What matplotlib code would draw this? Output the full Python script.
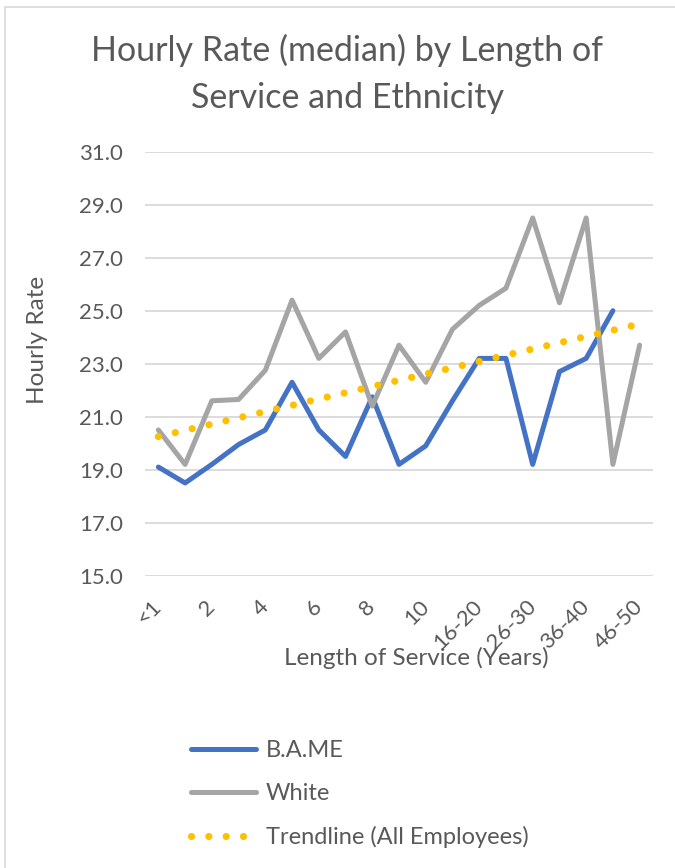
import numpy as np
import matplotlib
matplotlib.use("Agg")
import matplotlib.pyplot as plt
from matplotlib.patches import Rectangle
from matplotlib.ticker import FormatStrFormatter

plt.rcParams['font.family'] = ['Lato', 'DejaVu Sans']

categories = ["<1", "1", "2", "3", "4", "5", "6", "7", "8", "9", "10",
              "11-15", "16-20", "21-25", "26-30", "31-35", "36-40", "41-45", "46-50"]
bame = [19.1, 18.5, 19.2, 19.95, 20.5, 22.3, 20.5, 19.5, 21.75, 19.2, 19.9,
        21.6, 23.2, 23.2, 19.2, 22.7, 23.2, 25.0, np.nan]
white = [20.5, 19.2, 21.6, 21.65, 22.75, 25.4, 23.2, 24.2, 21.4, 23.7, 22.3,
         24.3, 25.2, 25.85, 28.5, 25.3, 28.5, 19.2, 23.7]
trend_start = 20.25
trend_end = 24.5

TEXT = "#595959"
GRID = "#D9D9D9"
BLUE = "#4472C4"
GREY = "#A5A5A5"
GOLD = "#FFC000"

W, H = 675, 868
fig = plt.figure(figsize=(W / 100, H / 100), dpi=100)
ax = fig.add_axes([145 / W, 1 - 575.7 / H, (653 - 145) / W, (575.7 - 151.7) / H])

x = np.arange(len(categories))
ax.plot(x, bame, color=BLUE, lw=3.6, solid_joinstyle="round",
        solid_capstyle="round", label="B.A.ME", zorder=3)
ax.plot(x, white, color=GREY, lw=3.6, solid_joinstyle="round",
        solid_capstyle="round", label="White", zorder=3)
ax.plot([x[0], x[-1]], [trend_start, trend_end], color=GOLD, lw=5.2,
        linestyle=(0, (0.001, 2.4)), dash_capstyle="round",
        label="Trendline (All Employees)", zorder=4)

ax.set_xlim(-0.5, len(categories) - 0.5)
ax.set_ylim(15, 31)
ax.set_yticks(np.arange(15, 31.1, 2))
ax.yaxis.set_major_formatter(FormatStrFormatter("%.1f"))
ax.set_xticks(x[::2], categories[::2])
ax.grid(axis="y", color=GRID, lw=1.3)
ax.set_axisbelow(True)
for s in ax.spines.values():
    s.set_visible(False)
ax.tick_params(axis="both", length=0, labelsize=16, labelcolor=TEXT)
ax.tick_params(axis="y", pad=16)
ax.tick_params(axis="x", pad=20)
for lbl in ax.get_xticklabels():
    lbl.set_rotation(45)
    lbl.set_rotation_mode("anchor")
    lbl.set_ha("right")
    lbl.set_va("center")

fig.text(347 / W, 1 - 74 / H, "Hourly Rate (median) by Length of\nService and Ethnicity",
         ha="center", va="center", fontsize=24.5, color=TEXT, linespacing=1.55)
fig.text(37 / W, 1 - 340 / H, "Hourly Rate", rotation=90, ha="center", va="center",
         fontsize=17.5, color=TEXT)
fig.text(416 / W, 1 - 658 / H, "Length of Service (Years)", ha="center", va="center",
         fontsize=17.5, color=TEXT)

leg = fig.legend(loc="upper left", bbox_to_anchor=(182 / W, 1 - 731 / H),
                 frameon=False, fontsize=17, handlelength=2.75, handletextpad=0.4,
                 labelspacing=0.93, borderaxespad=0)
for t in leg.get_texts():
    t.set_color(TEXT)

fig.patches.append(Rectangle((5.5 / W, -0.1), 2, 1 - 7 / H + 0.1, transform=fig.transFigure,
                             fill=False, edgecolor=GRID, lw=1.2))

fig.savefig("out.png", dpi=100)
